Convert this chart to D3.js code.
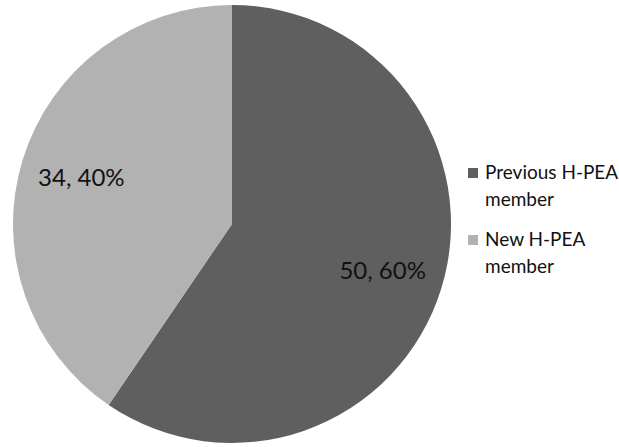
<!DOCTYPE html>
<html><head><meta charset="utf-8">
<script src="https://cdn.jsdelivr.net/npm/d3@7"></script>
<style>body{margin:0;background:#fff}svg{display:block}</style>
</head><body>
<script>
const categories = ["Previous H-PEA member", "New H-PEA member"];
const legendLines = [["Previous H-PEA", "member"], ["New H-PEA", "member"]];
const values = [50, 34];
const percents = ["60%", "40%"];
const colors = ["#5f5f5f", "#b2b2b2"];

const W = 619, H = 447;
const svg = d3.select("body").append("svg").attr("width", W).attr("height", H);
const cx = 232, cy = 224, r = 219;
const font = "Lato, 'Open Sans', sans-serif";

const pie = d3.pie().sort(null).value(d => d)(values);
const arc = d3.arc().innerRadius(0).outerRadius(r);
const g = svg.append("g").attr("transform", `translate(${cx},${cy})`);
g.selectAll("path").data(pie).join("path").attr("d", arc).attr("fill", (d, i) => colors[i]);

const labelArc = d3.arc().innerRadius(r * 0.72).outerRadius(r * 0.72);
g.selectAll("text").data(pie).join("text")
  .attr("x", d => labelArc.centroid(d)[0])
  .attr("y", d => labelArc.centroid(d)[1])
  .attr("text-anchor", "middle").attr("dy", "0.35em")
  .attr("font-family", font).attr("font-size", 24).attr("fill", "#111")
  .text((d, i) => `${values[i]}, ${percents[i]}`);

const lg = svg.append("g");
const legendY = [173, 240];
categories.forEach((c, i) => {
  lg.append("rect").attr("x", 468).attr("y", legendY[i] - 5).attr("width", 10).attr("height", 10).attr("fill", colors[i]);
  const t = lg.append("text").attr("font-family", font).attr("font-size", 19).attr("fill", "#111");
  legendLines[i].forEach((ln, j) => {
    t.append("tspan").attr("x", 485).attr("y", legendY[i] + 6 + j * 27).text(ln);
  });
});
</script>
</body></html>
